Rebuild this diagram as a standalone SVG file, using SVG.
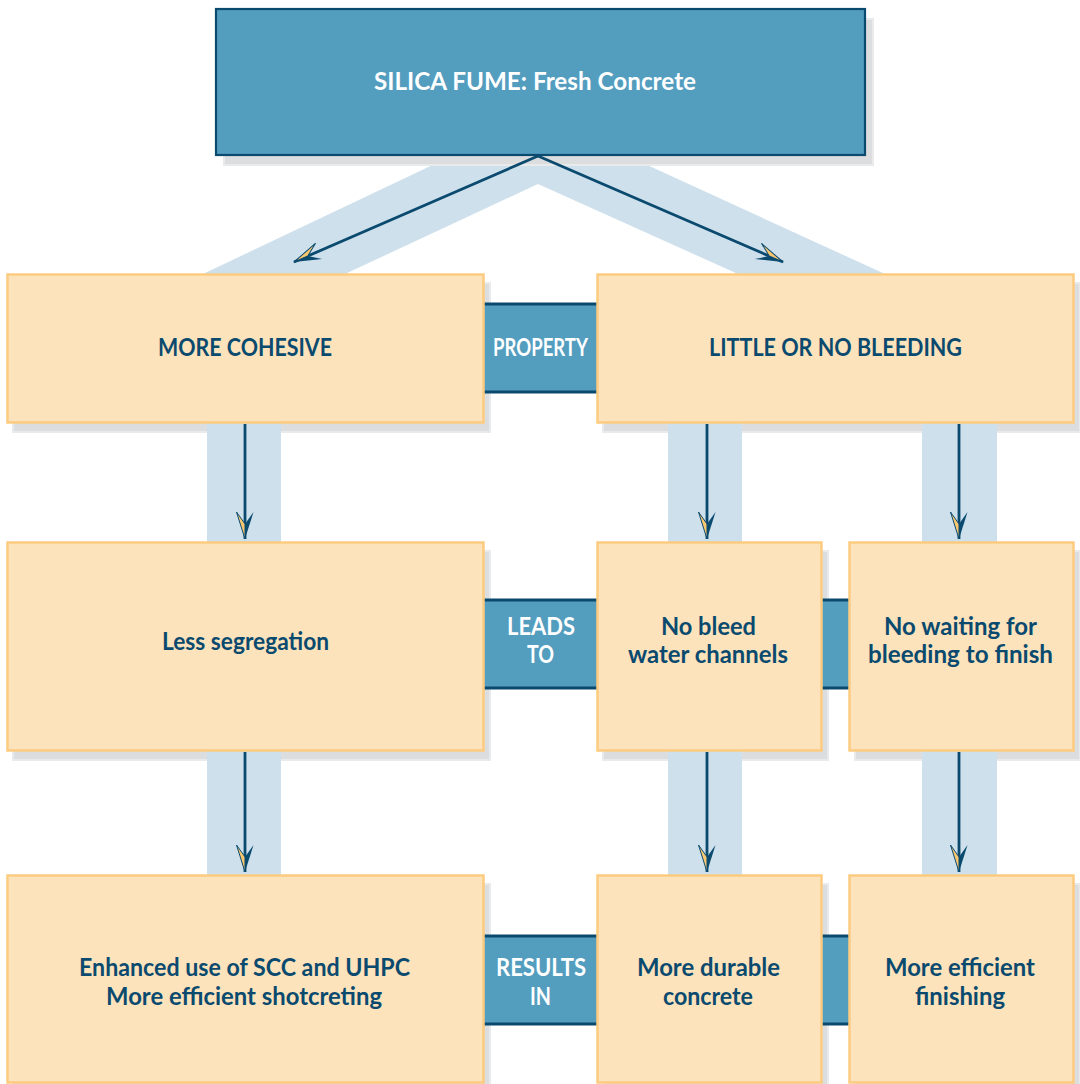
<svg xmlns="http://www.w3.org/2000/svg" width="1080" height="1084" viewBox="0 0 1080 1084">
<style>
.sh{fill:#DCDDDF;stroke:#E9EAEB;stroke-width:2}
.box{fill:#FCE3BB;stroke:#FDCB80;stroke-width:2.5}
.top{fill:#539DBF;stroke:#0B4A6F;stroke-width:2.2}
.bar{fill:#539DBF}
.barline{stroke:#0B4A6F;stroke-width:3}
.band{fill:#CEE0EC}
.t{font-family:Lato,"Open Sans","Liberation Sans",sans-serif;font-weight:700;font-size:24px;fill:#0B4A6F;text-anchor:middle}
.w{font-family:Lato,"Open Sans","Liberation Sans",sans-serif;font-weight:700;font-size:24px;fill:#FFFFFF;text-anchor:middle}
.arr{stroke:#0B4A6F;stroke-width:2.8;fill:none}
</style>
<defs>
<marker id="headA" markerUnits="userSpaceOnUse" viewBox="-30 -10 32 20" refX="0" refY="0" markerWidth="32" markerHeight="20" orient="auto">
<polygon points="0,0 -27,-8.5 -15,0" fill="#0B4A6F"/>
<polygon points="0,0 -27,8.5 -15,0" fill="#F9C770" stroke="#0B4A6F" stroke-width="1" stroke-linejoin="round"/>
</marker>
<marker id="headB" markerUnits="userSpaceOnUse" viewBox="-30 -10 32 20" refX="0" refY="0" markerWidth="32" markerHeight="20" orient="auto">
<polygon points="0,0 -27,8.5 -15,0" fill="#0B4A6F"/>
<polygon points="0,0 -27,-8.5 -15,0" fill="#F9C770" stroke="#0B4A6F" stroke-width="1" stroke-linejoin="round"/>
</marker>
</defs>

<!-- background bands -->
<g id="bands">
<polygon class="band" points="203,274 345,274 538,184 738,274 885,274 538,115"/>
</g>

<!-- shadows -->
<g id="shadows">
<rect class="sh" x="224" y="19" width="649" height="146"/>
<rect class="sh" x="13" y="283" width="477" height="149"/>
<rect class="sh" x="603" y="283" width="477" height="149"/>
<rect class="sh" x="13" y="551" width="477" height="209"/>
<rect class="sh" x="603" y="551" width="225" height="209"/>
<rect class="sh" x="855" y="551" width="225" height="209"/>
<rect class="sh" x="13" y="884" width="477" height="210"/>
<rect class="sh" x="603" y="884" width="225" height="210"/>
<rect class="sh" x="855" y="884" width="225" height="210"/>
</g>

<g id="vbands">
<rect class="band" x="207" y="423" width="74" height="119"/>
<rect class="band" x="668" y="423" width="74" height="119"/>
<rect class="band" x="922" y="423" width="75" height="119"/>
<rect class="band" x="207" y="751" width="74" height="124"/>
<rect class="band" x="668" y="751" width="74" height="124"/>
<rect class="band" x="922" y="751" width="75" height="124"/>
</g>

<!-- relation bars -->
<g id="bar-property">
<rect class="bar" x="484" y="304" width="113" height="89"/>
<line class="barline" x1="484" y1="304" x2="597" y2="304"/>
<line class="barline" x1="484" y1="392" x2="597" y2="392"/>
<text class="w" x="540.5" y="356" textLength="95" lengthAdjust="spacingAndGlyphs">PROPERTY</text>
</g>
<g id="bar-leads">
<rect class="bar" x="484" y="600" width="113" height="89"/>
<line class="barline" x1="484" y1="600" x2="597" y2="600"/>
<line class="barline" x1="484" y1="688" x2="597" y2="688"/>
<rect class="bar" x="822" y="600" width="27" height="89"/>
<line class="barline" x1="822" y1="600" x2="849" y2="600"/>
<line class="barline" x1="822" y1="688" x2="849" y2="688"/>
<text class="w" x="541" y="635" textLength="68" lengthAdjust="spacingAndGlyphs">LEADS</text>
<text class="w" x="540.5" y="663" textLength="27" lengthAdjust="spacingAndGlyphs">TO</text>
</g>
<g id="bar-results">
<rect class="bar" x="484" y="936" width="113" height="89"/>
<line class="barline" x1="484" y1="936" x2="597" y2="936"/>
<line class="barline" x1="484" y1="1024" x2="597" y2="1024"/>
<rect class="bar" x="822" y="936" width="27" height="89"/>
<line class="barline" x1="822" y1="936" x2="849" y2="936"/>
<line class="barline" x1="822" y1="1024" x2="849" y2="1024"/>
<text class="w" x="541" y="976" textLength="90" lengthAdjust="spacingAndGlyphs">RESULTS</text>
<text class="w" x="540.5" y="1005" textLength="21" lengthAdjust="spacingAndGlyphs">IN</text>
</g>

<!-- nodes -->
<g id="node-title">
<rect class="top" x="216" y="9" width="649" height="146"/>
<text class="w" x="535" y="90" textLength="322" lengthAdjust="spacingAndGlyphs">SILICA FUME: Fresh Concrete</text>
</g>
<g id="node-cohesive">
<rect class="box" x="7.5" y="274.5" width="476" height="148"/>
<text class="t" x="245" y="356" textLength="174" lengthAdjust="spacingAndGlyphs">MORE COHESIVE</text>
</g>
<g id="node-bleeding">
<rect class="box" x="597.5" y="274.5" width="476" height="148"/>
<text class="t" x="835.5" y="356" textLength="253" lengthAdjust="spacingAndGlyphs">LITTLE OR NO BLEEDING</text>
</g>
<g id="node-segregation">
<rect class="box" x="7.5" y="542.5" width="476" height="208"/>
<text class="t" x="245.5" y="650" textLength="167" lengthAdjust="spacingAndGlyphs">Less segregation</text>
</g>
<g id="node-channels">
<rect class="box" x="597.5" y="542.5" width="224" height="208"/>
<text class="t" x="708.5" y="635" textLength="95" lengthAdjust="spacingAndGlyphs">No bleed</text>
<text class="t" x="708" y="663" textLength="160" lengthAdjust="spacingAndGlyphs">water channels</text>
</g>
<g id="node-waiting">
<rect class="box" x="849.5" y="542.5" width="224" height="208"/>
<text class="t" x="960.5" y="635" textLength="153" lengthAdjust="spacingAndGlyphs">No waiting for</text>
<text class="t" x="960.5" y="663" textLength="185" lengthAdjust="spacingAndGlyphs">bleeding to finish</text>
</g>
<g id="node-scc">
<rect class="box" x="7.5" y="875.5" width="476" height="207"/>
<text class="t" x="244.5" y="976" textLength="331" lengthAdjust="spacingAndGlyphs">Enhanced use of SCC and UHPC</text>
<text class="t" x="244" y="1005" textLength="276" lengthAdjust="spacingAndGlyphs">More efficient shotcreting</text>
</g>
<g id="node-durable">
<rect class="box" x="597.5" y="875.5" width="224" height="207"/>
<text class="t" x="708.5" y="976" textLength="143" lengthAdjust="spacingAndGlyphs">More durable</text>
<text class="t" x="708" y="1005" textLength="90" lengthAdjust="spacingAndGlyphs">concrete</text>
</g>
<g id="node-finishing">
<rect class="box" x="849.5" y="875.5" width="224" height="207"/>
<text class="t" x="960" y="976" textLength="150" lengthAdjust="spacingAndGlyphs">More efficient</text>
<text class="t" x="960" y="1005" textLength="90" lengthAdjust="spacingAndGlyphs">finishing</text>
</g>

<!-- connectors -->
<g id="connectors">
<line class="arr" x1="538" y1="156" x2="294" y2="262" marker-end="url(#headA)"/>
<line class="arr" x1="538" y1="156" x2="783" y2="262" marker-end="url(#headB)"/>
<line class="arr" x1="245" y1="424" x2="245" y2="539" marker-end="url(#headA)"/>
<line class="arr" x1="707" y1="424" x2="707" y2="539" marker-end="url(#headA)"/>
<line class="arr" x1="959" y1="424" x2="959" y2="539" marker-end="url(#headA)"/>
<line class="arr" x1="245" y1="752" x2="245" y2="872" marker-end="url(#headA)"/>
<line class="arr" x1="707" y1="752" x2="707" y2="872" marker-end="url(#headA)"/>
<line class="arr" x1="959" y1="752" x2="959" y2="872" marker-end="url(#headA)"/>
</g>
</svg>
